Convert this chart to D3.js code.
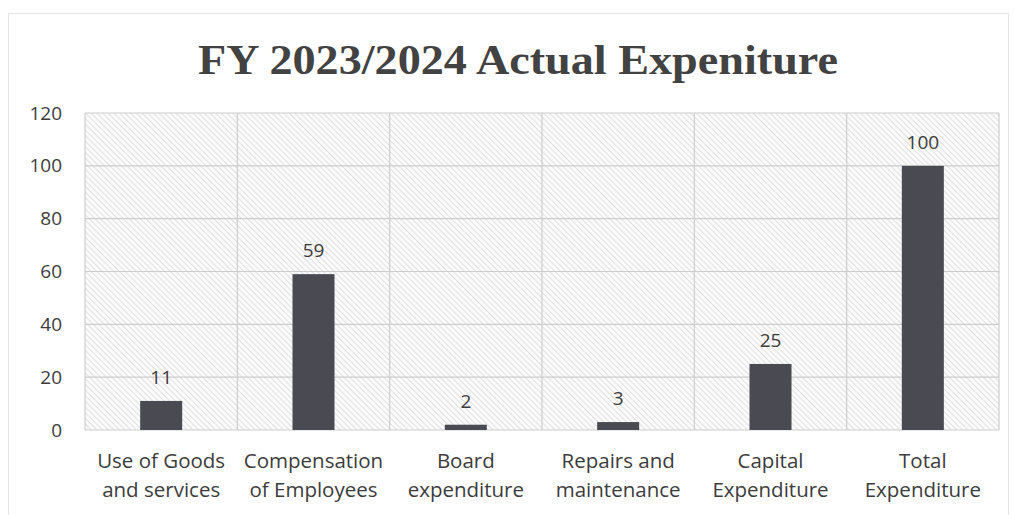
<!DOCTYPE html>
<html><head><meta charset="utf-8">
<script src="https://cdn.jsdelivr.net/npm/d3@7/dist/d3.min.js"></script>
<style>body{margin:0;background:#fff;} svg{display:block;}</style>
</head><body>
<svg id="c" width="1015" height="515"></svg>
<script>
const categories = [["Use of Goods","and services"],["Compensation","of Employees"],["Board","expenditure"],["Repairs and","maintenance"],["Capital","Expenditure"],["Total","Expenditure"]];
const values = [11, 59, 2, 3, 25, 100];
const yTicks = [0, 20, 40, 60, 80, 100, 120];
const title = "FY 2023/2024 Actual Expeniture";

const svg = d3.select("#c");
const m = {left: 85, right: 999, top: 113, bottom: 430};
const labelFont = "'Open Sans', Lato, sans-serif";
const txtCol = "#3c3c3c";

const defs = svg.append("defs");
const pat = defs.append("pattern").attr("id","hatch").attr("patternUnits","userSpaceOnUse")
  .attr("width",4).attr("height",4).attr("patternTransform","rotate(-45)");
pat.append("rect").attr("width",4).attr("height",4).attr("fill","#fbfbfb");
pat.append("line").attr("x1",0).attr("y1",0).attr("x2",0).attr("y2",4)
  .attr("stroke","#d2d2d2").attr("stroke-width",1.3);

// outer frame
svg.append("rect").attr("x",8.5).attr("y",13.5).attr("width",1000).attr("height",510)
  .attr("fill","none").attr("stroke","#e4e4e4");

const x = d3.scaleBand().domain(d3.range(categories.length)).range([m.left, m.right]).paddingInner(0).paddingOuter(0);
const y = d3.scaleLinear().domain([0,120]).range([m.bottom, m.top]);

svg.append("rect").attr("x",m.left).attr("y",m.top).attr("width",m.right-m.left).attr("height",m.bottom-m.top)
  .attr("fill","url(#hatch)");

// gridlines
svg.append("g").selectAll("line").data(yTicks).join("line")
  .attr("x1",m.left).attr("x2",m.right).attr("y1",d=>y(d)).attr("y2",d=>y(d))
  .attr("stroke","#cdcdcd").attr("stroke-width",1.2);
const vb = d3.range(categories.length+1).map(i => m.left + i*x.bandwidth());
svg.append("g").selectAll("line").data(vb).join("line")
  .attr("x1",d=>d).attr("x2",d=>d).attr("y1",m.top).attr("y2",m.bottom)
  .attr("stroke","#cdcdcd").attr("stroke-width",1.2);

// y labels
svg.append("g").selectAll("text").data(yTicks).join("text")
  .attr("x",62).attr("y",d=>y(d)).attr("dy","0.35em").attr("text-anchor","end")
  .attr("font-family",labelFont).attr("font-size",19).attr("fill",txtCol).text(d=>d);

// bars
const bw = 42;
svg.append("g").selectAll("rect").data(values).join("rect")
  .attr("x",(d,i)=>x(i)+x.bandwidth()/2-bw/2).attr("width",bw)
  .attr("y",d=>y(d)).attr("height",d=>y(0)-y(d)).attr("fill","#4a4a53");

// value labels
svg.append("g").selectAll("text").data(values).join("text")
  .attr("x",(d,i)=>x(i)+x.bandwidth()/2).attr("y",d=>y(d)-17)
  .attr("text-anchor","middle").attr("font-family",labelFont).attr("font-size",19).attr("fill",txtCol).text(d=>d);

// category labels
const cg = svg.append("g").selectAll("text").data(categories).join("text")
  .attr("text-anchor","middle").attr("font-family",labelFont).attr("font-size",20.5).attr("fill",txtCol);
cg.each(function(d,i){
  const t = d3.select(this);
  d.forEach((line,j)=>{
    t.append("tspan").attr("x",x(i)+x.bandwidth()/2).attr("y",468+j*29).text(line);
  });
});

// title
svg.append("text").attr("x",518).attr("y",74).attr("text-anchor","middle")
  .attr("font-family","'Liberation Serif', 'DejaVu Serif', serif").attr("font-weight","bold")
  .attr("font-size",42).attr("textLength",640).attr("lengthAdjust","spacingAndGlyphs")
  .attr("fill","#424242").text(title);
</script>
</body></html>
